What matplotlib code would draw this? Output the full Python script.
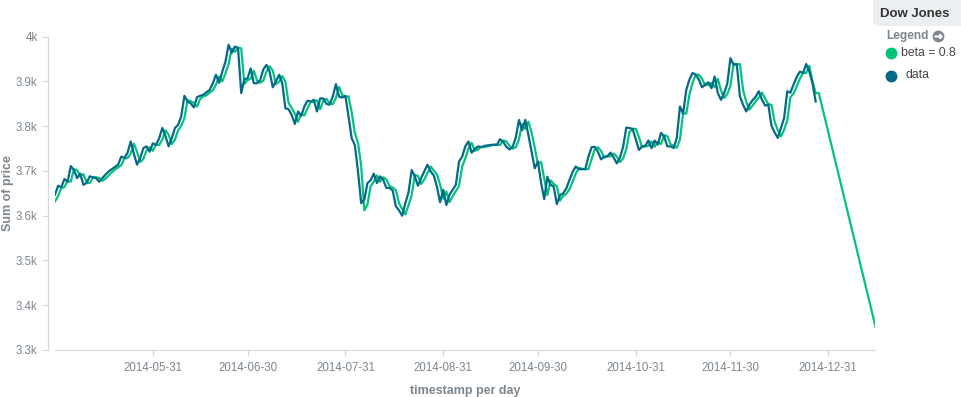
import numpy as np
import pandas as pd
import matplotlib
matplotlib.use("Agg")
import matplotlib.pyplot as plt
import matplotlib.dates as mdates
from matplotlib.patches import FancyBboxPatch
from matplotlib.lines import Line2D


# # # # # data # # # # #

first_day = "2014-04-30"

# daily sum of price (dark line)
price = [
	3647, 3667, 3664, 3682, 3676, 3711, 3702, 3684, 3694, 3669,
	3673, 3688, 3686, 3684, 3676, 3684, 3692, 3699, 3704, 3709,
	3714, 3732, 3729, 3741, 3766, 3738, 3714, 3729, 3751, 3755,
	3743, 3762, 3758, 3773, 3796, 3778, 3755, 3773, 3796, 3803,
	3822, 3868, 3855, 3851, 3842, 3865, 3868, 3870, 3876, 3881,
	3896, 3915, 3897, 3922, 3944, 3982, 3964, 3978, 3974, 3874,
	3905, 3907, 3929, 3896, 3896, 3903, 3927, 3937, 3922, 3887,
	3900, 3915, 3896, 3840, 3838, 3825, 3805, 3833, 3823, 3844,
	3857, 3855, 3859, 3833, 3862, 3862, 3850, 3848, 3866, 3894,
	3866, 3864, 3868, 3822, 3773, 3758, 3699, 3628, 3636, 3673,
	3679, 3694, 3673, 3688, 3680, 3662, 3662, 3656, 3621, 3612,
	3600, 3628, 3652, 3702, 3688, 3667, 3684, 3699, 3714, 3699,
	3690, 3665, 3630, 3658, 3624, 3647, 3658, 3669, 3721, 3732,
	3755, 3766, 3741, 3749, 3755, 3753, 3756, 3757, 3758, 3759,
	3758, 3771, 3765, 3754, 3748, 3754, 3775, 3814, 3791, 3814,
	3780, 3743, 3706, 3721, 3674, 3637, 3687, 3669, 3665, 3626,
	3646, 3650, 3661, 3680, 3698, 3710, 3704, 3704, 3704, 3732,
	3753, 3754, 3743, 3726, 3732, 3733, 3741, 3730, 3717, 3730,
	3754, 3797, 3796, 3794, 3771, 3747, 3755, 3756, 3768, 3751,
	3768, 3759, 3785, 3777, 3755, 3755, 3751, 3774, 3844, 3828,
	3881, 3904, 3919, 3915, 3904, 3887, 3893, 3898, 3885, 3911,
	3874, 3859, 3874, 3895, 3952, 3937, 3939, 3867, 3848, 3833,
	3848, 3858, 3866, 3878, 3859, 3846, 3848, 3801, 3786, 3774,
	3796, 3818, 3878, 3875, 3893, 3910, 3922, 3919, 3939, 3922,
	3896, 3855,
]

# smoothed series (green line), same days as price
beta_fit = [
	3632, 3644, 3662, 3664, 3678, 3676, 3704, 3702, 3688, 3693,
	3674, 3673, 3685, 3686, 3684, 3678, 3683, 3690, 3697, 3703,
	3708, 3713, 3728, 3729, 3739, 3761, 3743, 3720, 3727, 3746,
	3753, 3745, 3759, 3758, 3770, 3791, 3781, 3760, 3770, 3791,
	3801, 3818, 3858, 3856, 3852, 3844, 3861, 3867, 3869, 3875,
	3880, 3893, 3911, 3900, 3918, 3939, 3973, 3966, 3976, 3974,
	3894, 3903, 3906, 3924, 3902, 3897, 3902, 3922, 3934, 3924,
	3894, 3899, 3912, 3899, 3852, 3841, 3828, 3810, 3828, 3824,
	3840, 3854, 3855, 3858, 3838, 3857, 3861, 3852, 3849, 3863,
	3888, 3870, 3865, 3867, 3831, 3785, 3763, 3712, 3612, 3625,
	3666, 3676, 3690, 3676, 3686, 3681, 3666, 3663, 3657, 3628,
	3615, 3603, 3623, 3646, 3691, 3689, 3671, 3681, 3695, 3710,
	3701, 3692, 3670, 3638, 3654, 3630, 3644, 3655, 3666, 3710,
	3728, 3750, 3763, 3745, 3748, 3754, 3753, 3755, 3757, 3758,
	3759, 3758, 3768, 3766, 3756, 3750, 3753, 3771, 3805, 3794,
	3810, 3786, 3752, 3715, 3720, 3683, 3646, 3679, 3671, 3666,
	3634, 3644, 3649, 3659, 3676, 3694, 3707, 3705, 3704, 3704,
	3726, 3748, 3753, 3745, 3730, 3732, 3733, 3739, 3732, 3720,
	3728, 3749, 3787, 3794, 3794, 3776, 3753, 3755, 3756, 3766,
	3754, 3765, 3760, 3780, 3778, 3760, 3756, 3752, 3770, 3829,
	3828, 3870, 3897, 3915, 3915, 3906, 3891, 3893, 3897, 3887,
	3906, 3880, 3863, 3872, 3890, 3940, 3938, 3939, 3881, 3855,
	3837, 3846, 3856, 3864, 3875, 3862, 3849, 3848, 3810, 3791,
	3777, 3792, 3813, 3865, 3873, 3889, 3906, 3919, 3919, 3935,
	3900, 3874,
]

# forecast tail of the green line
forecast_dates = ["2014-12-28", "2015-01-16"]
forecast_vals = [3874, 3322]

tick_dates = ["2014-05-31", "2014-06-30", "2014-07-31", "2014-08-31",
	"2014-09-30", "2014-10-31", "2014-11-30", "2014-12-31"]
y_ticks = [3300, 3400, 3500, 3600, 3700, 3800, 3900, 4000]
y_tick_labels = ["3.3k", "3.4k", "3.5k", "3.6k", "3.7k", "3.8k", "3.9k", "4k"]

series_names = ["beta = 0.8", "data"]
series_colors = ["#00c47a", "#05698a"]


# # # # # figure # # # # #

plt.rcParams["font.family"] = ["Liberation Sans", "DejaVu Sans"]

TICK_COL = "#7d868e"
AXIS_COL = "#d8d8d8"

days = pd.date_range(first_day, periods=len(price), freq="D")
green_x = list(days) + [pd.Timestamp(d) for d in forecast_dates]
green_y = beta_fit + forecast_vals

fig = plt.figure(figsize=(9.61, 3.97), dpi=100)
ax = fig.add_axes([55/961, 1-350/397, 820/961, (350-36.7)/397])

ax.plot(green_x, green_y, color=series_colors[0], lw=1.6, solid_joinstyle="round", zorder=2)
ax.plot(days, price, color=series_colors[1], lw=1.6, solid_joinstyle="round", zorder=3)

# axes limits
ax.set_ylim(3300, 4000)
ax.set_xlim(pd.Timestamp(first_day), pd.Timestamp(first_day) + pd.Timedelta(days=259.8))

# ticks
ax.set_xticks([pd.Timestamp(d) for d in tick_dates])
ax.xaxis.set_major_formatter(mdates.DateFormatter("%Y-%m-%d"))
ax.set_yticks(y_ticks)
ax.set_yticklabels(y_tick_labels)
ax.tick_params(axis="both", colors=AXIS_COL, labelcolor=TICK_COL, labelsize=8.3, length=4.5, width=0.9)
ax.tick_params(axis="x", pad=4)
ax.tick_params(axis="y", pad=3)

# spines
for side in ["top", "right"]:
	ax.spines[side].set_visible(False)
ax.spines["left"].set_position(("outward", 5))
for side in ["left", "bottom"]:
	ax.spines[side].set_color(AXIS_COL)
	ax.spines[side].set_linewidth(0.9)

# axis titles
ax.set_xlabel("timestamp per day", color=TICK_COL, fontsize=9, fontweight="bold", labelpad=8)
fig.text(8/961, 1-193/397, "Sum of price", rotation=90, color=TICK_COL, fontsize=9,
	fontweight="bold", ha="center", va="center")


# # # # # legend panel # # # # #

title_box = FancyBboxPatch((873/961, 1-26/397), 100/961, 40/397, boxstyle="round,pad=0,rounding_size=0.008",
	transform=fig.transFigure, facecolor="#eceff1", edgecolor="none")
fig.patches.append(title_box)
fig.text(915/961, 1-14/397, "Dow Jones", color="#333333", fontsize=9.5, fontweight="bold",
	ha="center", va="center")

fig.text(886/961, 1-36/397, "Legend", color=TICK_COL, fontsize=8.6, fontweight="bold",
	ha="left", va="center")
fig.add_artist(Line2D([938/961], [1-35.5/397], marker="o", markersize=7.5, color=TICK_COL,
	transform=fig.transFigure))
fig.add_artist(Line2D([938/961], [1-35.5/397], marker=r"$\rightarrow$", markersize=5, color="white",
	transform=fig.transFigure))

leg_y = [53, 75.5]
leg_text_x = [901, 905]
for name, col, yy, tx in zip(series_names, series_colors, leg_y, leg_text_x):
	fig.add_artist(Line2D([890.5/961], [1-yy/397], marker="o", markersize=7.5, color=col,
		transform=fig.transFigure))
	fig.text(tx/961, 1-yy/397, name, color="#444444", fontsize=8.8, ha="left", va="center")

fig.savefig("out.png", dpi=100)
